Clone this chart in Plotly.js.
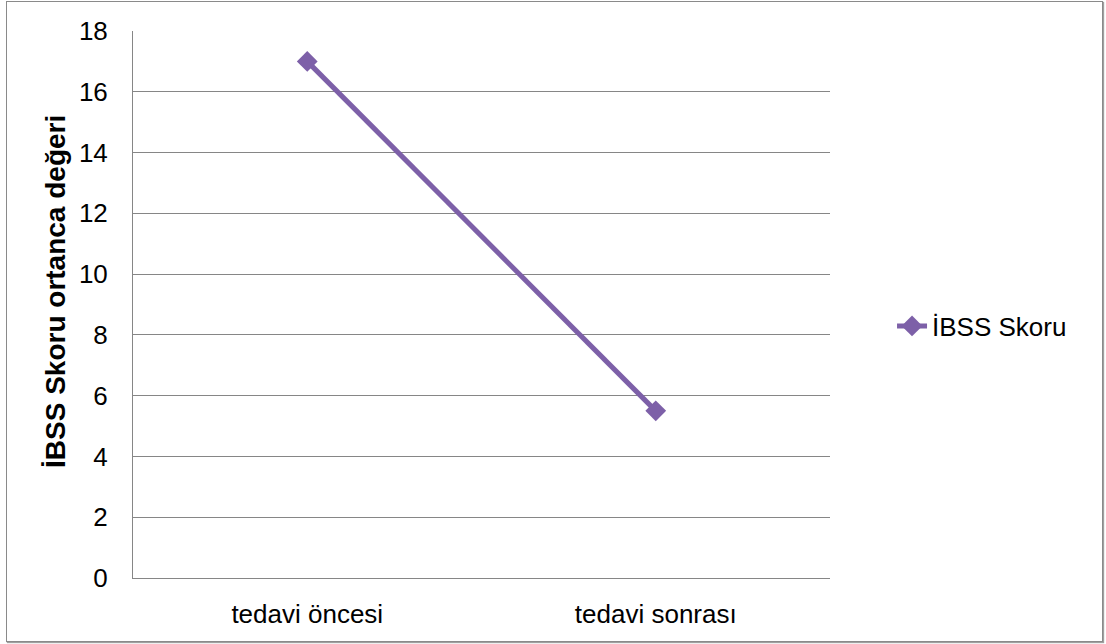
<!DOCTYPE html>
<html><head><meta charset="utf-8">
<script src="https://cdn.plot.ly/plotly-3.0.1.min.js"></script>
<style>
body{margin:0;background:#fff;}
#frame{position:absolute;left:6px;top:1px;width:1095px;height:639px;border:1px solid #8a8a8a;box-shadow:1px 1px 1px #a0a0a0;background:#fff;}
#chart{width:1095px;height:639px;}
</style></head>
<body><div id="frame"><div id="chart"></div></div>
<script>
const categories = ["tedavi öncesi", "tedavi sonrası"];
const ibssValues = [17, 5.5];
const seriesName = "İBSS Skoru";
const yTicks = [0, 2, 4, 6, 8, 10, 12, 14, 16, 18];
const yTitle = "İBSS Skoru ortanca değeri";

const fam = '"Liberation Sans", Arial, sans-serif';
const trace = {
  x: categories, y: ibssValues, name: seriesName, type: 'scatter', mode: 'lines+markers',
  line: {color: '#7D60A8', width: 5},
  marker: {symbol: 'diamond', size: 16, color: '#7D60A8'}
};
const layout = {
  width: 1095, height: 639,
  margin: {l: 126, r: 272, t: 29, b: 63},
  paper_bgcolor: '#fff', plot_bgcolor: '#fff',
  font: {family: fam, size: 26, color: '#000'},
  showlegend: true,
  legend: {x: 1.089, xanchor: 'left', y: 0.4607, yanchor: 'middle',
           font: {family: fam, size: 26, color: '#000'}, bgcolor: 'rgba(0,0,0,0)'},
  xaxis: {
    type: 'category', range: [-0.5, 1.5], showgrid: false, zeroline: false,
    showline: true, linecolor: '#868686', linewidth: 1, ticks: '', ticklabelstandoff: 13,
    tickfont: {family: fam, size: 26, color: '#000'}
  },
  yaxis: {
    range: [0, 18], tickvals: yTicks, showgrid: true, gridcolor: '#868686', gridwidth: 1,
    zeroline: false, showline: true, linecolor: '#868686', linewidth: 1, ticks: '',
    ticklabelstandoff: 19, tickfont: {family: fam, size: 26, color: '#000'}
  },
  annotations: [{
    text: yTitle, textangle: -90, xref: 'paper', yref: 'paper',
    x: -0.1105, y: 0.5247, xanchor: 'center', yanchor: 'middle', showarrow: false,
    font: {family: fam, size: 28, color: '#000', weight: 'bold'}
  }]
};
Plotly.newPlot('chart', [trace], layout, {displayModeBar: false, staticPlot: true});
</script></body></html>
